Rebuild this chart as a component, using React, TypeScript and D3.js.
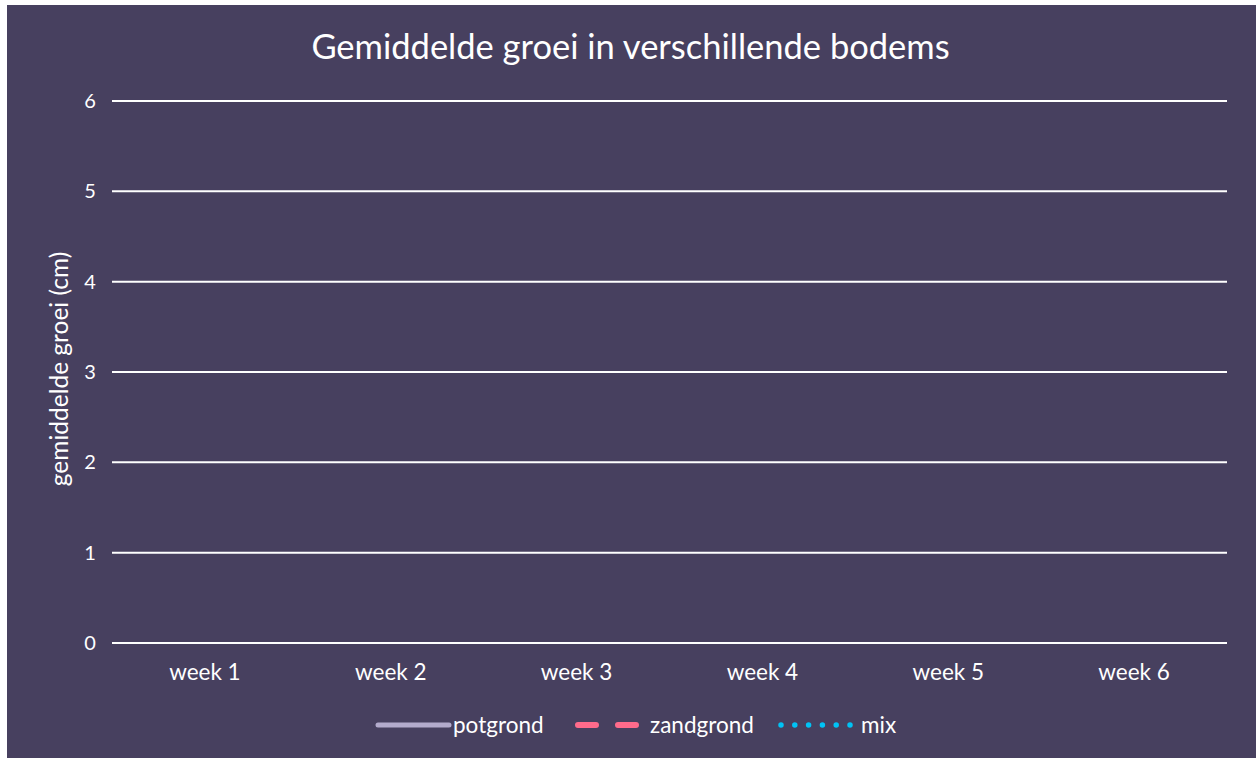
import React from "react";
import * as d3 from "d3";

// categories + ticks
const weeks = ["week 1", "week 2", "week 3", "week 4", "week 5", "week 6"];
const yTicks = [0, 1, 2, 3, 4, 5, 6];

// series values (the reference shows no plotted points)
const potgrond: (number | null)[] = [];
const zandgrond: (number | null)[] = [];
const mix: (number | null)[] = [];

const series = [
  { name: "potgrond", values: potgrond, color: "#b3abcc", dash: "none", width: 5 },
  { name: "zandgrond", values: zandgrond, color: "#ff6b8b", dash: "18 22", width: 6 },
  { name: "mix", values: mix, color: "#00c3f5", dash: "0 13.8", width: 5.5 },
];

const W = 1249;
const H = 753;
const margin = { top: 96, right: 29, bottom: 115, left: 105 };
const font = "Lato, 'Open Sans', sans-serif";

const App = () => {
  const innerW = W - margin.left - margin.right;
  const innerH = H - margin.top - margin.bottom;

  const x = d3.scaleBand().domain(weeks).range([0, innerW]);
  const y = d3.scaleLinear().domain([0, 6]).range([innerH, 0]);

  const line = d3
    .line<number | null>()
    .defined((d) => d != null)
    .x((_, i) => (x(weeks[i]) ?? 0) + x.bandwidth() / 2)
    .y((d) => y(d as number));

  // legend layout
  const legend = [
    { ...series[0], x: 371, sw: 71, tx: 446 },
    { ...series[1], x: 571, sw: 63, tx: 643 },
    { ...series[2], x: 774, sw: 70, tx: 854 },
  ];

  return (
    <svg
      width={W}
      height={H}
      style={{ position: "absolute", left: 7, top: 5, display: "block" }}
    >
      <rect width={W} height={H} fill="#47405f" />
      <text
        x={W / 2 - 1}
        y={54}
        textAnchor="middle"
        fill="#ffffff"
        fontFamily={font}
        fontSize={34.5}
      >
        Gemiddelde groei in verschillende bodems
      </text>

      <g transform={`translate(${margin.left},${margin.top})`}>
        {yTicks.map((t) => (
          <g key={t}>
            <line x1={0} x2={innerW} y1={y(t)} y2={y(t)} stroke="#ffffff" strokeWidth={2} />
            <text
              x={-22}
              y={y(t)}
              dy="0.35em"
              textAnchor="middle"
              fill="#ffffff"
              fontFamily={font}
              fontSize={20}
            >
              {t}
            </text>
          </g>
        ))}
        {weeks.map((w) => (
          <text
            key={w}
            x={(x(w) ?? 0) + x.bandwidth() / 2}
            y={innerH + 37}
            textAnchor="middle"
            fill="#ffffff"
            fontFamily={font}
            fontSize={22.5}
          >
            {w}
          </text>
        ))}
        <text
          transform={`translate(${-44},${innerH / 2 - 3}) rotate(-90)`}
          textAnchor="middle"
          fill="#ffffff"
          fontFamily={font}
          fontSize={24.5}
        >
          gemiddelde groei (cm)
        </text>
        {series.map((s) => (
          <path
            key={s.name}
            d={line(s.values) ?? ""}
            fill="none"
            stroke={s.color}
            strokeWidth={s.width}
            strokeDasharray={s.dash}
            strokeLinecap="round"
          />
        ))}
      </g>

      <g transform={`translate(0,${720})`}>
        {legend.map((l) => (
          <g key={l.name}>
            <line
              x1={l.x}
              x2={l.x + l.sw}
              y1={0}
              y2={0}
              stroke={l.color}
              strokeWidth={l.width}
              strokeDasharray={l.dash}
              strokeLinecap="round"
            />
            <text
              x={l.tx}
              y={0}
              dy="0.35em"
              fill="#ffffff"
              fontFamily={font}
              fontSize={22.5}
            >
              {l.name}
            </text>
          </g>
        ))}
      </g>
    </svg>
  );
};

export default App;
